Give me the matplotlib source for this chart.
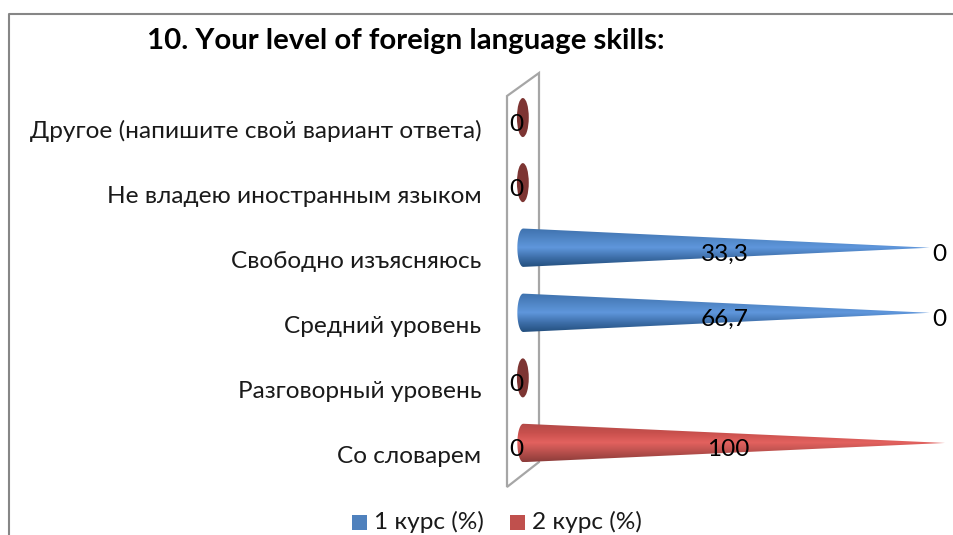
import matplotlib
matplotlib.use('Agg')
import matplotlib.pyplot as plt
import numpy as np
from matplotlib.patches import Ellipse, Polygon, Rectangle
from matplotlib.colors import LinearSegmentedColormap

W, H = 954, 535

title = "10. Your level of foreign language skills:"
categories = ["Со словарем", "Разговорный уровень", "Средний уровень",
              "Свободно изъясняюсь", "Не владею иностранным языком",
              "Другое (напишите свой вариант ответа)"]
course1 = [0, 0, 66.7, 33.3, 0, 0]
course2 = [100, 0, 0, 0, 0, 0]
series_names = ["1 курс (%)", "2 курс (%)"]

plt.rcParams['font.family'] = ['Lato', 'Open Sans', 'DejaVu Sans']
FS = 17.6

blue = LinearSegmentedColormap.from_list('b', ['#24507f', '#3f70ab', '#5f97dc', '#4f84c4', '#3f72ae'])
red = LinearSegmentedColormap.from_list('r', ['#8c3c3a', '#b84f4c', '#e3625f', '#c9504d', '#b24a48'])

fig = plt.figure(figsize=(W / 100, H / 100), dpi=100)
bg = fig.add_axes([0, 0, 1, 1])
bg.set_xlim(0, W)
bg.set_ylim(H, 0)
bg.axis('off')

# outer border and the side wall of the 3d chart
bg.plot([9.5, 9.5, W], [H, 14, 14], color='#868686', lw=1.5)
bg.add_patch(Polygon([(507, 96), (539, 73), (539, 462), (507, 487)], closed=True,
                     fill=False, ec='#a6a6a6', lw=1.6))

# percent on x, category index on y
ax = fig.add_axes([522 / W, 1 - 475.5 / H, (945 - 522) / W, 390.5 / H])
ax.set_xlim(0, 100)
ax.set_ylim(-0.5, 5.5)
ax.axis('off')
ax.patch.set_alpha(0)


def cone(y, length, cmap):
    hh = 0.295
    grad = np.linspace(0, 1, 64).reshape(-1, 1)
    im = ax.imshow(grad, extent=(-2, length, y - hh, y + hh), origin='lower',
                   cmap=cmap, aspect='auto', zorder=3)
    # round base on the left, straight sides to the tip
    t = np.linspace(np.pi / 2, 3 * np.pi / 2, 30)
    arc = np.column_stack([0.3 + 1.4 * np.cos(t), y + hh * np.sin(t)])
    pts = np.vstack([arc, [(length, y)]])
    im.set_clip_path(Polygon(pts, closed=True, transform=ax.transData))
    im.set_clip_box(fig.bbox)


for i, name in enumerate(categories):
    ax.text(-9.6, i - 0.21, name, ha='right', va='center', fontsize=FS,
            color='#1a1a1a', clip_on=False)
    a, b = course1[i], course2[i]
    if a > 0:
        cone(i, 96.4, blue)
        ax.text(48, i - 0.105, f"{a}".replace('.', ','), ha='center', va='center',
                fontsize=FS, color='black', zorder=5)
        ax.text(98.6, i - 0.105, "0", ha='center', va='center', fontsize=FS, zorder=5)
    elif b > 0:
        cone(i, b, red)
        ax.text(48.7, i - 0.105, f"{b}", ha='center', va='center',
                fontsize=FS, color='black', zorder=5)
        ax.text(-1.4, i - 0.105, "0", ha='center', va='center', fontsize=FS, zorder=5)
    else:
        ax.add_patch(Ellipse((0.2, i), 2.8, 0.6, fc='#7d3533', ec='none', zorder=3, clip_on=False))
        ax.text(-1.4, i - 0.105, "0", ha='center', va='center', fontsize=FS, zorder=5)

bg.text(406, 40.5, title, ha='center', va='center', fontsize=21.2, fontweight='bold', color='black')

# legend
for x, c, name in zip([352, 510], ['#4f81bd', '#c0504d'], series_names):
    bg.add_patch(Rectangle((x, 515), 15, 15, fc=c, ec='none'))
    bg.text(x + 22, 522, name, ha='left', va='center', fontsize=FS, color='#1a1a1a')

fig.savefig('out.png', dpi=100)
